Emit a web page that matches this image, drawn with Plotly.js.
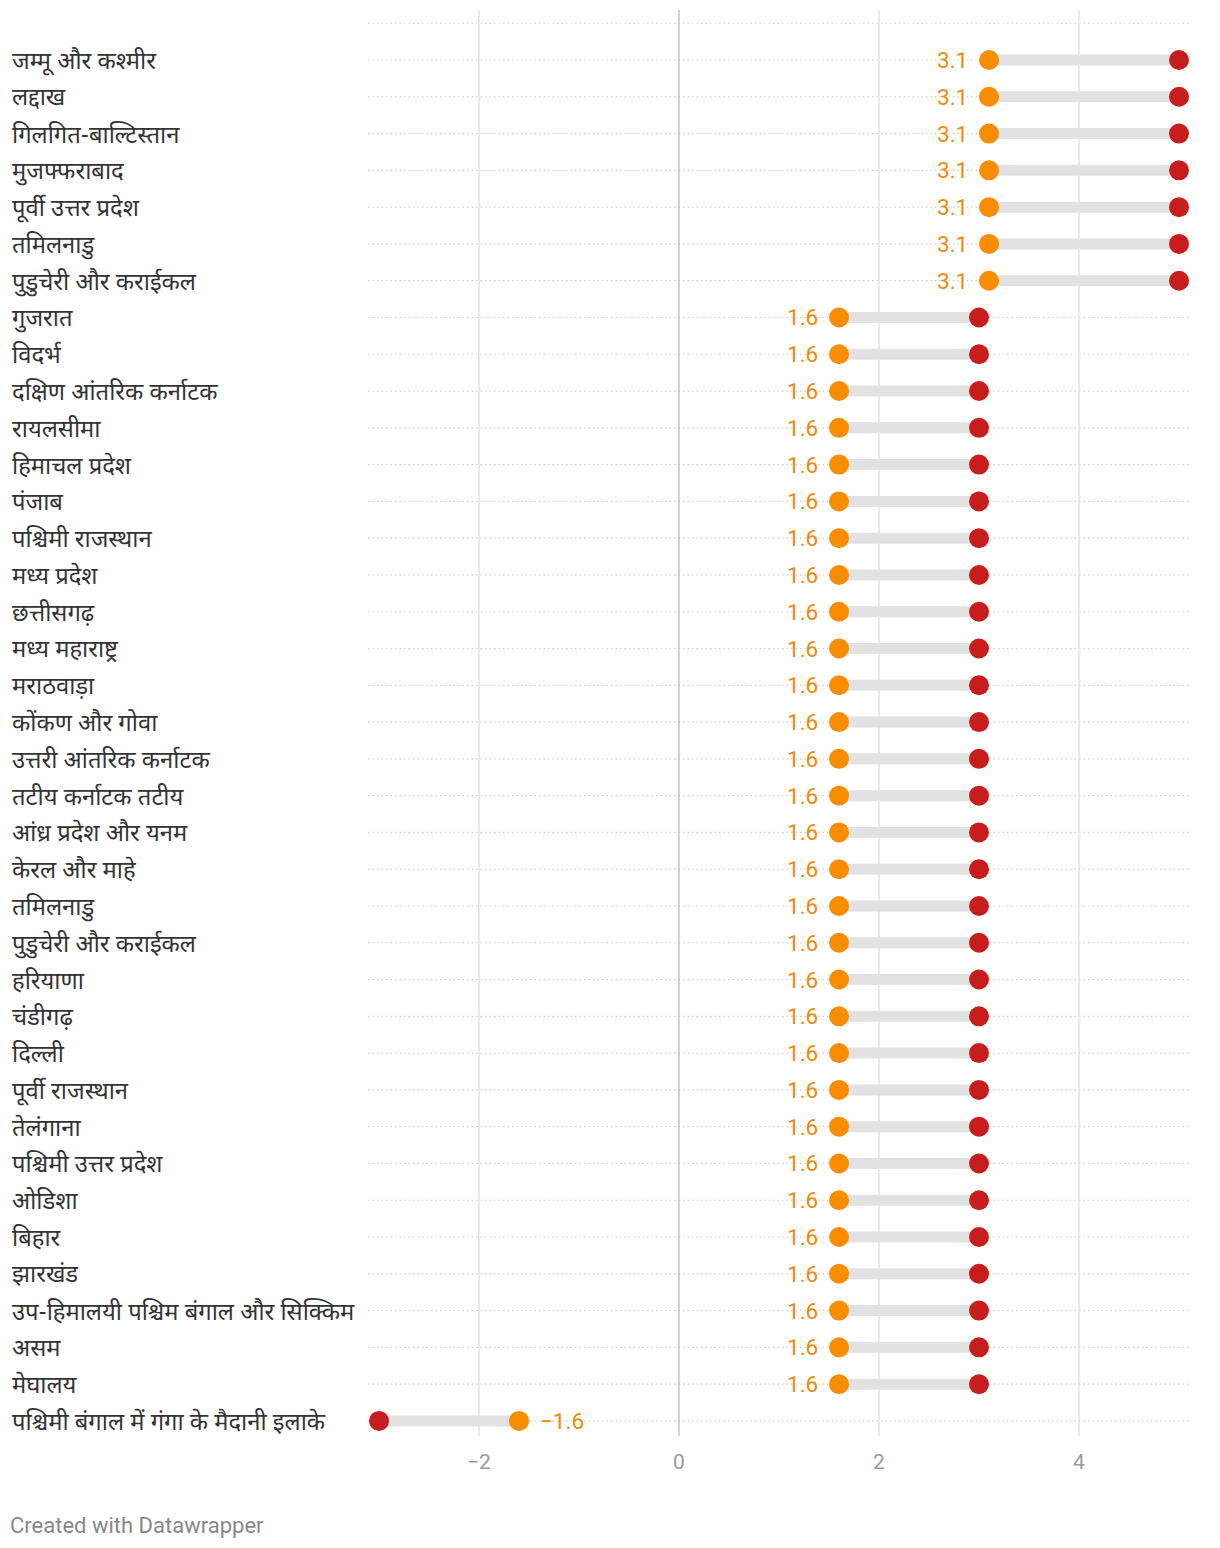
<!DOCTYPE html>
<html>
<head>
<meta charset="utf-8">
<script src="https://cdn.plot.ly/plotly-3.0.1.min.js"></script>
<style>
html,body{margin:0;padding:0;background:#fff;}
#chart{width:1220px;height:1548px;}
</style>
</head>
<body>
<div id="chart"></div>
<script>
const regions = [
  "जम्मू और कश्मीर","लद्दाख","गिलगित-बाल्टिस्तान","मुजफ्फराबाद","पूर्वी उत्तर प्रदेश","तमिलनाडु","पुडुचेरी और कराईकल",
  "गुजरात","विदर्भ","दक्षिण आंतरिक कर्नाटक","रायलसीमा","हिमाचल प्रदेश","पंजाब","पश्चिमी राजस्थान","मध्य प्रदेश",
  "छत्तीसगढ़","मध्य महाराष्ट्र","मराठवाड़ा","कोंकण और गोवा","उत्तरी आंतरिक कर्नाटक","तटीय कर्नाटक तटीय",
  "आंध्र प्रदेश और यनम","केरल और माहे","तमिलनाडु","पुडुचेरी और कराईकल","हरियाणा","चंडीगढ़","दिल्ली",
  "पूर्वी राजस्थान","तेलंगाना","पश्चिमी उत्तर प्रदेश","ओडिशा","बिहार","झारखंड",
  "उप-हिमालयी पश्चिम बंगाल और सिक्किम","असम","मेघालय","पश्चिमी बंगाल में गंगा के मैदानी इलाके"
];
const orangeValues = [3.1,3.1,3.1,3.1,3.1,3.1,3.1,
  1.6,1.6,1.6,1.6,1.6,1.6,1.6,1.6,1.6,1.6,1.6,1.6,1.6,1.6,1.6,1.6,1.6,1.6,1.6,1.6,1.6,1.6,1.6,1.6,1.6,1.6,1.6,1.6,1.6,1.6,
  -1.6];
const redValues = [5,5,5,5,5,5,5,
  3,3,3,3,3,3,3,3,3,3,3,3,3,3,3,3,3,3,3,3,3,3,3,3,3,3,3,3,3,3,
  -3];
const xTicks = [-2,0,2,4];
const xTickLabels = ["−2","0","2","4"];

const idx = regions.map((_, i) => i);
const ORANGE = "#fa8c00";
const ORANGE_TXT = "#f08a0c";
const RED = "#c71e1d";

const segX = [], segY = [];
idx.forEach(i => { segX.push(orangeValues[i], redValues[i], null); segY.push(i, i, null); });

const fmt = v => (v < 0 ? "−" + Math.abs(v).toFixed(1) : v.toFixed(1));

const traces = [
  {type:"scatter", mode:"lines", x:segX, y:segY, line:{color:"#e2e2e2", width:11}, hoverinfo:"skip", showlegend:false},
  {type:"scatter", mode:"markers", x:redValues, y:idx, marker:{color:RED, size:20}, showlegend:false},
  {type:"scatter", mode:"markers", x:orangeValues, y:idx, marker:{color:ORANGE, size:20}, showlegend:false}
];

const annotations = regions.map((r, i) => ({
  xref:"paper", yref:"y", x:(10-368)/822, y:i, xanchor:"left", yanchor:"middle", yshift:-3,
  text:r, showarrow:false,
  font:{family:"'Noto Sans Devanagari', 'Noto Sans', 'Lohit Devanagari', sans-serif", size:23.8, color:"#333"}
}));
orangeValues.forEach((v, i) => annotations.push({
  xref:"x", yref:"y", x:v, y:i, xanchor: v < 0 ? "left" : "right", yanchor:"middle",
  xshift: v < 0 ? 19 : -19, yshift:0,
  text:fmt(v), showarrow:false,
  font:{family:"Roboto, sans-serif", size:22.5, color:ORANGE_TXT}
}));
annotations.push({
  xref:"paper", yref:"paper", x:(8-368)/822, y:-(1525-1436)/1426, xanchor:"left", yanchor:"middle",
  text:"Created with Datawrapper", showarrow:false,
  font:{family:"Roboto, sans-serif", size:22, color:"#888"}
});

const shapes = [];
[-1].concat(idx).forEach(i => shapes.push({
  type:"line", xref:"paper", yref:"y", x0:0, x1:1, y0:i, y1:i, layer:"below",
  line:{color:"#cccccc", width:1.2, dash:"1.5px,3px"}
}));
xTicks.forEach(t => shapes.push({
  type:"line", xref:"x", yref:"paper", x0:t, x1:t, y0:0, y1:1, layer:"below",
  line:{color: t === 0 ? "#c4c4c4" : "#e3e3e3", width:1.5}
}));

const layout = {
  width:1220, height:1548,
  margin:{l:368, r:30, t:10, b:112},
  paper_bgcolor:"#fff", plot_bgcolor:"#fff",
  xaxis:{range:[-3.11,5.11], tickvals:xTicks, ticktext:xTickLabels, showgrid:false, zeroline:false,
         showline:false, ticks:"", tickfont:{family:"Roboto, sans-serif", size:21, color:"#9a9a9a"}, ticklabelstandoff:11},
  yaxis:{range:[37.41,-1.36], showgrid:false, zeroline:false, showticklabels:false, showline:false, ticks:""},
  shapes:shapes, annotations:annotations, showlegend:false
};

Plotly.newPlot("chart", traces, layout, {displayModeBar:false, staticPlot:true});
</script>
</body>
</html>
